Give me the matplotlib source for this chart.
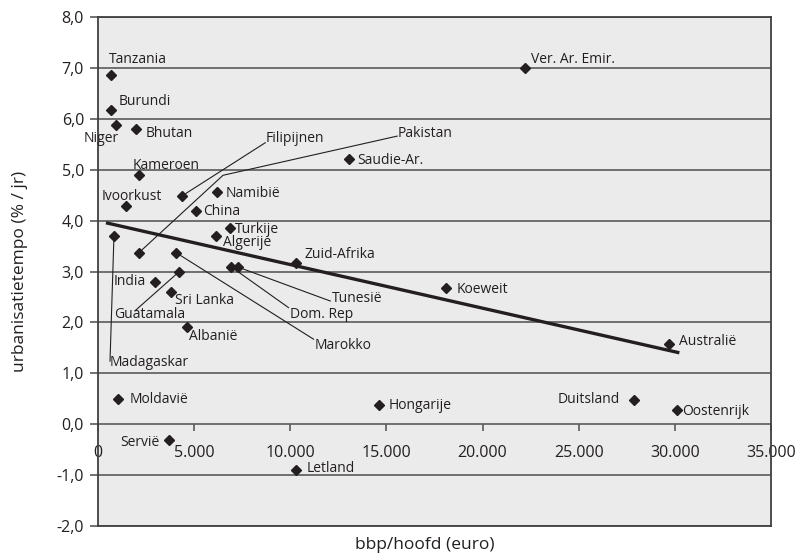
import matplotlib
matplotlib.use('Agg')
import matplotlib.pyplot as plt

plt.rcParams['font.family'] = ['Open Sans', 'DejaVu Sans']

# landen: bbp per hoofd (euro) en urbanisatietempo (% per jaar)
landen = ['Tanzania', 'Burundi', 'Niger', 'Bhutan', 'Kameroen', 'Ivoorkust',
          'Filipijnen', 'Namibië', 'China', 'Turkije', 'Algerije', 'Madagaskar',
          'Pakistan', 'Marokko', 'Guatamala', 'India', 'Sri Lanka', 'Albanië',
          'Dom. Rep', 'Tunesië', 'Zuid-Afrika', 'Koeweit', 'Saudie-Ar.',
          'Ver. Ar. Emir.', 'Australië', 'Duitsland', 'Oostenrijk', 'Hongarije',
          'Moldavië', 'Servië', 'Letland']
bbp = [680, 680, 920, 2000, 2130, 1460,
       4350, 6200, 5120, 6840, 6150, 830,
       2130, 4060, 4200, 2970, 3820, 4620,
       6930, 7260, 10300, 18100, 13040,
       22200, 29670, 27900, 30100, 14630,
       1040, 3700, 10310]
tempo = [6.87, 6.18, 5.88, 5.8, 4.89, 4.28,
         4.48, 4.56, 4.19, 3.86, 3.7, 3.7,
         3.37, 3.37, 2.99, 2.79, 2.59, 1.91,
         3.09, 3.09, 3.17, 2.67, 5.22,
         7.0, 1.57, 0.48, 0.28, 0.37,
         0.49, -0.32, -0.9]

# plaats van de labels
label_x = [590, 1060, 1090, 2480, 1810, 190,
           8700, 6630, 5450, 7130, 6500, 620,
           15560, 11250, 850, 2480, 4010, 4720,
           9960, 12170, 10740, 18650, 13500,
           22500, 30190, 27130, 30400, 15120,
           1630, 3190, 10830]
label_y = [7.16, 6.34, 5.62, 5.72, 5.09, 4.47,
           5.62, 4.54, 4.17, 3.83, 3.56, 1.21,
           5.71, 1.54, 2.15, 2.8, 2.44, 1.72,
           2.15, 2.46, 3.34, 2.64, 5.19,
           7.16, 1.62, 0.49, 0.25, 0.37,
           0.48, -0.35, -0.87]
rechts = ['Niger', 'India', 'Duitsland', 'Servië']

# verbindingslijnen van punt naar label
lijnen = {
    'Filipijnen': ([4350, 8700], [4.48, 5.53]),
    'Pakistan': ([2130, 6500, 15560], [3.37, 4.89, 5.66]),
    'Madagaskar': ([830, 625], [3.7, 1.24]),
    'Guatamala': ([4200, 1930], [2.99, 2.23]),
    'Marokko': ([4060, 11210], [3.37, 1.67]),
    'Dom. Rep': ([6930, 9910], [3.09, 2.29]),
    'Tunesië': ([7260, 12080], [3.09, 2.42]),
}

# trendlijn
trend_x = [500, 30150]
trend_y = [3.95, 1.41]

fig = plt.figure(figsize=(8.02, 5.58), dpi=100)
ax = fig.add_axes([98 / 802, 1 - 526 / 558, (771 - 98) / 802, (526 - 17) / 558])
ax.set_facecolor('#ebebeb')

ax.set_xlim(0, 35000)
ax.set_ylim(-2, 8)
ax.set_yticks(range(-2, 9))
ax.set_yticklabels([f'{v},0' for v in range(-2, 9)], fontsize=11.5, color='#231f20')
ax.grid(axis='y', color='#5a5a5a', linewidth=1.2)
ax.set_axisbelow(True)
ax.tick_params(axis='y', length=6, width=1.2, color='#5a5a5a', pad=4)
for s in ax.spines.values():
    s.set_color('#404040')
    s.set_linewidth(1.3)

# x-as loopt door y = 0
ax.set_xticks([])
sec = ax.secondary_xaxis(0.2)
sec.set_xticks(range(0, 35001, 5000))
sec.set_xticklabels(['0'] + [f'{v // 1000}.000' for v in range(5000, 35001, 5000)],
                    fontsize=11.5, color='#231f20')
sec.tick_params(axis='x', direction='out', length=5, width=1.2, color='#5a5a5a', pad=10)
sec.spines['bottom'].set_visible(False)

for naam, (lx, ly) in lijnen.items():
    ax.plot(lx, ly, color='#231f20', linewidth=0.8, zorder=3)

ax.plot(trend_x, trend_y, color='#231f20', linewidth=2.4, zorder=4)
ax.plot(bbp, tempo, linestyle='none', marker='D', markersize=5.5,
        color='#231f20', zorder=5)

for naam, x, y in zip(landen, label_x, label_y):
    ax.text(x, y, naam, fontsize=10, color='#231f20', va='center',
            ha='right' if naam in rechts else 'left', zorder=6)

fig.text(20 / 802, 1 - 271 / 558, 'urbanisatietempo (% / jr)', fontsize=12.5,
         color='#231f20', ha='center', va='center', rotation=90)
fig.text(425 / 802, 1 - 545 / 558, 'bbp/hoofd (euro)', fontsize=12.5,
         color='#231f20', ha='center', va='center')

fig.savefig('out.png', dpi=100)
